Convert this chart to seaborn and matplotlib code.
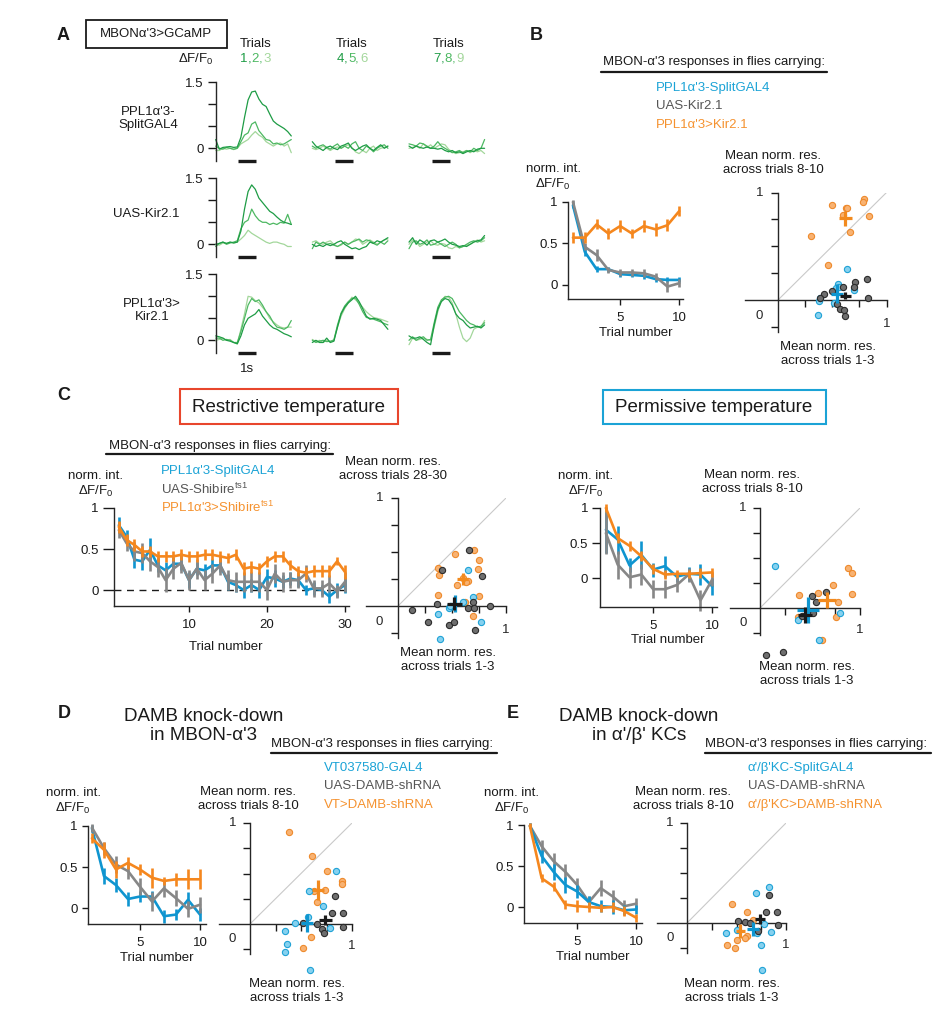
import numpy as np
import pandas as pd
import matplotlib
matplotlib.use("Agg")
import matplotlib.pyplot as plt
import seaborn as sns
from matplotlib.patches import Rectangle
from matplotlib.lines import Line2D

sns.set_theme(style="ticks")
plt.rcParams['font.family'] = ['Liberation Sans', 'DejaVu Sans']
plt.rcParams['mathtext.fontset'] = 'custom'
plt.rcParams['mathtext.rm'] = 'Liberation Sans'
plt.rcParams['mathtext.it'] = 'Liberation Sans:italic'
plt.rcParams['axes.linewidth'] = 1.0
plt.rcParams['xtick.color'] = 'k'
plt.rcParams['ytick.color'] = 'k'

# ---------------------------------------------------------------- data
time_s = [0.0, 0.2, 0.4, 0.6, 0.8, 1.0, 1.2, 1.4, 1.6, 1.8, 2.0,
          2.2, 2.4, 2.6, 2.8, 3.0, 3.2, 3.4, 3.6, 3.8, 4.0, 4.2]
row_labels = ["PPL1α'3-\nSplitGAL4", "UAS-Kir2.1", "PPL1α'3>\nKir2.1"]
trial_groups = [["1", "2", "3"], ["4", "5", "6"], ["7", "8", "9"]]

# panel A traces (first, second, third trial of each block)
split_t123 = [
    [0.20, -0.02, 0.02, 0.03, 0.04, 0.02, 0.03, 0.25, 0.70, 1.10, 1.28, 1.30, 1.12, 1.00, 0.95, 0.78, 0.62, 0.55, 0.50, 0.45, 0.38, 0.28],
    [0.05, 0.00, -0.02, 0.02, 0.00, -0.02, 0.00, 0.15, 0.30, 0.35, 0.55, 0.60, 0.40, 0.30, 0.20, 0.18, 0.10, 0.12, 0.08, 0.10, 0.15, 0.20],
    [-0.05, -0.05, 0.00, -0.02, 0.00, -0.03, 0.00, 0.10, 0.15, 0.20, 0.30, 0.38, 0.30, 0.25, 0.15, 0.10, 0.05, 0.10, 0.12, 0.05, 0.10, -0.10]]
split_t456 = [
    [0.15, 0.05, 0.00, -0.05, 0.02, 0.05, 0.00, -0.03, 0.05, 0.08, 0.12, 0.00, -0.05, 0.00, 0.05, 0.08, 0.00, -0.05, 0.02, 0.08, 0.00, 0.05],
    [0.05, 0.00, 0.05, 0.08, 0.02, -0.02, 0.05, 0.10, 0.00, 0.05, 0.00, 0.10, 0.15, 0.00, -0.05, 0.05, 0.00, -0.08, 0.00, 0.05, 0.08, 0.00],
    [0.00, -0.03, 0.00, 0.05, 0.00, -0.05, 0.00, 0.03, 0.00, 0.05, 0.08, 0.02, -0.08, -0.12, -0.05, -0.10, 0.00, 0.05, -0.05, 0.00, 0.02, 0.05]]
split_t789 = [
    [0.05, 0.00, 0.05, 0.02, 0.00, 0.03, 0.00, 0.00, -0.02, 0.00, -0.05, -0.08, -0.05, -0.10, -0.08, -0.12, -0.08, -0.05, -0.08, -0.02, 0.00, 0.00],
    [0.10, 0.08, 0.05, 0.12, 0.10, 0.05, 0.00, 0.05, 0.15, 0.05, 0.00, -0.05, -0.10, -0.08, -0.05, -0.10, -0.05, -0.08, 0.00, -0.05, 0.00, 0.20],
    [0.00, 0.02, 0.05, 0.00, 0.10, 0.02, 0.08, 0.00, 0.05, 0.10, 0.08, -0.02, -0.08, -0.12, -0.10, -0.08, -0.05, -0.10, -0.05, -0.08, -0.05, -0.12]]
kir_t123 = [
    [0.00, 0.02, 0.05, 0.02, 0.05, 0.03, 0.05, 0.30, 0.80, 1.20, 1.35, 1.25, 1.05, 0.95, 0.85, 0.75, 0.70, 0.62, 0.55, 0.50, 0.48, 0.45],
    [-0.05, 0.02, 0.05, 0.00, 0.03, 0.05, 0.08, 0.35, 0.50, 0.55, 0.80, 0.65, 0.55, 0.50, 0.50, 0.45, 0.48, 0.45, 0.50, 0.48, 0.68, 0.45],
    [0.00, -0.02, 0.03, 0.02, 0.05, 0.03, 0.05, 0.12, 0.20, 0.32, 0.25, 0.20, 0.15, 0.10, 0.05, 0.02, 0.05, 0.05, 0.02, 0.00, -0.05, -0.05]]
kir_t456 = [
    [0.00, -0.05, -0.02, -0.05, 0.00, -0.03, 0.00, 0.05, 0.08, 0.00, -0.05, -0.10, -0.08, -0.12, -0.08, -0.05, 0.05, 0.02, 0.08, 0.05, 0.10, 0.15],
    [-0.10, 0.05, 0.00, 0.05, 0.00, 0.02, -0.02, -0.05, 0.00, 0.05, 0.00, 0.05, 0.08, 0.12, 0.05, 0.10, 0.08, 0.02, -0.02, 0.05, 0.00, 0.08],
    [0.05, 0.08, 0.02, 0.00, 0.05, 0.08, 0.00, -0.05, -0.02, 0.05, 0.00, 0.05, 0.12, 0.10, 0.00, 0.05, 0.10, 0.05, 0.00, 0.05, 0.10, 0.12]]
kir_t789 = [
    [0.05, 0.15, 0.00, 0.10, 0.05, -0.02, 0.08, 0.10, 0.05, 0.08, 0.12, 0.05, 0.00, -0.02, -0.05, -0.03, -0.05, 0.00, 0.05, 0.08, 0.10, 0.20],
    [-0.10, 0.05, 0.08, 0.00, 0.03, 0.10, -0.02, 0.00, 0.05, 0.00, -0.05, 0.00, 0.05, 0.00, -0.08, -0.05, 0.00, 0.05, 0.08, 0.05, 0.08, 0.15],
    [0.00, 0.10, 0.05, -0.05, 0.00, 0.05, 0.08, 0.00, -0.02, 0.02, 0.00, -0.08, -0.10, -0.05, -0.08, -0.05, -0.02, 0.00, 0.05, 0.10, 0.05, 0.08]]
ppkir_t123 = [
    [0.10, 0.08, 0.05, 0.00, -0.02, -0.05, -0.08, 0.10, 0.35, 0.50, 0.55, 0.60, 0.70, 0.55, 0.45, 0.35, 0.28, 0.25, 0.20, 0.15, 0.12, 0.08],
    [0.05, 0.05, 0.00, 0.02, 0.00, -0.05, -0.05, 0.20, 0.50, 0.80, 0.95, 0.88, 0.92, 0.80, 0.65, 0.55, 0.40, 0.30, 0.28, 0.25, 0.30, 0.45],
    [0.00, 0.02, 0.05, 0.00, 0.02, -0.05, -0.08, 0.25, 0.60, 1.00, 0.98, 0.90, 0.85, 0.75, 0.65, 0.50, 0.42, 0.35, 0.30, 0.28, 0.30, 0.30]]
ppkir_t456 = [
    [-0.05, 0.00, -0.05, -0.05, 0.05, -0.05, -0.02, 0.30, 0.60, 0.75, 0.85, 0.92, 1.00, 0.88, 0.72, 0.55, 0.48, 0.50, 0.48, 0.45, 0.35, 0.25],
    [0.00, -0.05, -0.02, 0.00, -0.03, -0.02, 0.00, 0.35, 0.62, 0.78, 0.88, 0.95, 0.96, 0.82, 0.65, 0.52, 0.50, 0.48, 0.45, 0.42, 0.38, 0.35],
    [0.02, -0.03, 0.00, -0.05, 0.00, -0.04, 0.02, 0.30, 0.55, 0.72, 0.85, 0.98, 0.92, 0.85, 0.75, 0.65, 0.58, 0.52, 0.50, 0.48, 0.45, 0.42]]
ppkir_t789 = [
    [0.10, 0.05, 0.05, 0.08, 0.02, -0.05, -0.10, 0.35, 0.70, 0.88, 0.95, 0.92, 0.80, 0.60, 0.50, 0.45, 0.35, 0.28, 0.30, 0.32, 0.28, 0.35],
    [0.00, 0.08, 0.00, 0.05, 0.08, 0.00, 0.02, 0.40, 0.75, 0.92, 0.98, 1.00, 0.95, 0.80, 0.65, 0.55, 0.45, 0.38, 0.35, 0.30, 0.32, 0.40],
    [-0.10, 0.05, 0.00, 0.02, 0.05, 0.02, 0.00, 0.30, 0.65, 0.90, 1.00, 0.98, 0.85, 0.60, 0.30, 0.05, -0.03, 0.05, 0.25, 0.30, 0.30, 0.45]]

trials10 = [1, 2, 3, 4, 5, 6, 7, 8, 9, 10]
trials30 = list(range(1, 31))

# panel B
B_labels = ["PPL1α'3-SplitGAL4", "UAS-Kir2.1", "PPL1α'3>Kir2.1"]
B_blue = [0.96, 0.40, 0.19, 0.19, 0.13, 0.12, 0.11, 0.07, 0.06, 0.06]
B_blue_err = [0.03, 0.05, 0.04, 0.03, 0.03, 0.03, 0.04, 0.03, 0.03, 0.03]
B_gray = [1.00, 0.46, 0.36, 0.18, 0.15, 0.15, 0.14, 0.10, -0.02, 0.02]
B_gray_err = [0.03, 0.04, 0.07, 0.04, 0.04, 0.04, 0.05, 0.04, 0.07, 0.05]
B_orange = [0.57, 0.57, 0.73, 0.62, 0.71, 0.62, 0.71, 0.67, 0.72, 0.89]
B_orange_err = [0.07, 0.07, 0.06, 0.07, 0.07, 0.06, 0.07, 0.08, 0.07, 0.06]
Bs_orange_x = [0.50, 0.63, 0.60, 0.79, 0.78, 0.84, 0.30, 0.66, 0.46, 0.64]
Bs_orange_y = [0.88, 0.86, 0.79, 0.94, 0.91, 0.78, 0.60, 0.63, 0.33, 0.86]
Bs_blue_x = [0.64, 0.55, 0.53, 0.38, 0.39, 0.37, 0.70, 0.52, 0.56]
Bs_blue_y = [0.29, 0.15, 0.11, -0.01, 0.02, -0.14, 0.09, -0.03, 0.12]
Bs_gray_x = [0.60, 0.71, 0.70, 0.82, 0.42, 0.39, 0.50, 0.54, 0.57, 0.61, 0.62, 0.83]
Bs_gray_y = [0.12, 0.17, 0.12, 0.20, 0.06, 0.02, 0.08, -0.04, -0.08, -0.09, -0.15, 0.02]
Bs_means = [(0.54, 0.06, 0.055, 0.085, 'blue'), (0.62, 0.04, 0.05, 0.03, 'black'),
            (0.62, 0.76, 0.06, 0.07, 'orange')]

# panel C restrictive
C_labels = ["PPL1α'3-SplitGAL4", "UAS-Shibire$^{\\mathrm{ts1}}$", "PPL1α'3>Shibire$^{\\mathrm{ts1}}$"]
Cr_blue = [0.79, 0.65, 0.37, 0.35, 0.49, 0.30, 0.24, 0.32, 0.32, 0.12, 0.26, 0.24, 0.30, 0.30, 0.10,
           0.06, 0.00, 0.06, 0.00, 0.16, 0.14, 0.10, 0.14, 0.12, 0.00, 0.02, 0.00, -0.08, 0.00, 0.06]
Cr_blue_err = [0.10, 0.08, 0.10, 0.10, 0.15, 0.08, 0.10, 0.08, 0.08, 0.10, 0.08, 0.08, 0.08, 0.08, 0.10,
               0.08, 0.10, 0.08, 0.10, 0.10, 0.10, 0.08, 0.08, 0.08, 0.06, 0.08, 0.06, 0.08, 0.08, 0.10]
Cr_gray = [0.73, 0.57, 0.47, 0.45, 0.35, 0.28, 0.12, 0.26, 0.33, 0.12, 0.26, 0.12, 0.20, 0.30, 0.12,
           0.10, 0.10, 0.10, 0.10, 0.00, 0.20, 0.10, 0.12, 0.12, 0.20, 0.02, 0.02, 0.08, -0.02, 0.10]
Cr_gray_err = [0.10, 0.10, 0.12, 0.12, 0.12, 0.12, 0.15, 0.12, 0.12, 0.12, 0.12, 0.12, 0.12, 0.12, 0.12,
               0.12, 0.12, 0.12, 0.12, 0.12, 0.12, 0.12, 0.10, 0.10, 0.10, 0.10, 0.10, 0.10, 0.08, 0.12]
Cr_orange = [0.77, 0.61, 0.55, 0.47, 0.47, 0.41, 0.41, 0.41, 0.43, 0.41, 0.41, 0.43, 0.43, 0.41, 0.39,
             0.43, 0.26, 0.28, 0.26, 0.35, 0.41, 0.41, 0.30, 0.23, 0.21, 0.23, 0.23, 0.23, 0.35, 0.22]
Cr_orange_err = [0.07, 0.07, 0.07, 0.07, 0.07, 0.07, 0.07, 0.06, 0.07, 0.07, 0.07, 0.07, 0.07, 0.07, 0.06,
                 0.07, 0.08, 0.07, 0.07, 0.07, 0.07, 0.07, 0.06, 0.06, 0.07, 0.07, 0.07, 0.07, 0.05, 0.08]
Crs_orange_x = [0.53, 0.70, 0.75, 0.74, 0.37, 0.38, 0.55, 0.65, 0.63, 0.37, 0.75, 0.62, 0.69, 0.60]
Crs_orange_y = [0.48, 0.52, 0.43, 0.34, 0.35, 0.29, 0.19, 0.23, 0.22, 0.10, 0.09, 0.04, -0.09, 0.26]
Crs_blue_x = [0.65, 0.69, 0.60, 0.47, 0.37, 0.77, 0.39, 0.48]
Crs_blue_y = [0.33, 0.08, 0.04, -0.02, -0.07, -0.15, -0.31, 0.00]
Crs_gray_x = [0.66, 0.41, 0.78, 0.36, 0.69, 0.65, 0.70, 0.85, 0.13, 0.28, 0.47, 0.52, 0.71]
Crs_gray_y = [0.52, 0.33, 0.28, 0.02, 0.04, -0.02, -0.02, 0.00, -0.04, -0.15, -0.18, -0.15, -0.22]
Crs_means = [(0.53, 0.02, 0.05, 0.08, 'blue'), (0.52, 0.02, 0.07, 0.06, 'black'),
             (0.60, 0.25, 0.05, 0.06, 'orange')]

# panel C permissive
Cp_blue = [0.69, 0.55, 0.18, 0.33, 0.12, 0.17, 0.02, 0.06, 0.05, -0.12]
Cp_blue_err = [0.33, 0.20, 0.10, 0.20, 0.10, 0.15, 0.07, 0.10, 0.15, 0.12]
Cp_gray = [0.64, 0.19, 0.01, 0.05, -0.16, -0.16, -0.10, 0.05, -0.32, -0.02]
Cp_gray_err = [0.30, 0.20, 0.15, 0.15, 0.13, 0.13, 0.10, 0.10, 0.15, 0.10]
Cp_orange = [1.00, 0.57, 0.46, 0.31, 0.13, 0.05, 0.06, 0.06, 0.07, 0.08]
Cp_orange_err = [0.06, 0.07, 0.07, 0.07, 0.07, 0.06, 0.06, 0.06, 0.07, 0.06]
Cps_blue_x = [0.15, 0.80, 0.38, 0.59]
Cps_blue_y = [0.42, -0.05, -0.12, -0.32]
Cps_orange_x = [0.39, 0.58, 0.73, 0.88, 0.92, 0.92, 0.78, 0.76, 0.62, 0.38]
Cps_orange_y = [0.13, 0.15, 0.23, 0.40, 0.35, 0.14, 0.06, -0.09, -0.32, -0.09]
Cps_gray_x = [0.52, 0.56, 0.66, 0.53, 0.06, 0.23, 0.42]
Cps_gray_y = [0.12, 0.06, 0.16, -0.05, -0.47, -0.44, -0.08]
Cps_means = [(0.48, -0.02, 0.11, 0.13, 'blue'), (0.45, -0.07, 0.07, 0.08, 'black'),
             (0.67, 0.08, 0.09, 0.08, 'orange')]

# panel D
D_labels = ["VT037580-GAL4", "UAS-DAMB-shRNA", "VT>DAMB-shRNA"]
D_blue = [0.97, 0.39, 0.28, 0.11, 0.14, 0.14, -0.10, -0.08, 0.10, -0.08]
D_blue_err = [0.04, 0.10, 0.08, 0.08, 0.07, 0.07, 0.08, 0.07, 0.10, 0.08]
D_gray = [0.98, 0.73, 0.53, 0.45, 0.26, 0.08, 0.24, 0.12, -0.01, 0.04]
D_gray_err = [0.05, 0.08, 0.10, 0.10, 0.10, 0.12, 0.10, 0.10, 0.10, 0.10]
D_orange = [0.85, 0.71, 0.47, 0.55, 0.47, 0.37, 0.33, 0.35, 0.35, 0.35]
D_orange_err = [0.06, 0.10, 0.10, 0.07, 0.07, 0.12, 0.05, 0.08, 0.12, 0.12]
Ds_orange_x = [0.38, 0.61, 0.75, 0.90, 0.90, 0.74, 0.63, 0.66, 0.60, 0.52]
Ds_orange_y = [0.91, 0.67, 0.52, 0.43, 0.40, 0.34, 0.33, 0.22, -0.13, -0.24]
Ds_blue_x = [0.84, 0.58, 0.72, 0.44, 0.57, 0.78, 0.34, 0.36, 0.34, 0.59]
Ds_blue_y = [0.52, 0.33, 0.18, 0.01, 0.07, -0.04, -0.07, -0.20, -0.28, -0.46]
Ds_gray_x = [0.83, 0.80, 0.91, 0.66, 0.71, 0.73, 0.91, 0.52]
Ds_gray_y = [0.28, 0.11, 0.11, 0.00, -0.05, -0.09, -0.03, 0.01]
Ds_means = [(0.56, 0.01, 0.06, 0.09, 'blue'), (0.74, 0.04, 0.06, 0.05, 'black'),
            (0.67, 0.34, 0.06, 0.10, 'orange')]

# panel E
E_labels = ["α'/β'KC-SplitGAL4", "UAS-DAMB-shRNA", "α'/β'KC>DAMB-shRNA"]
E_blue = [0.99, 0.62, 0.43, 0.27, 0.19, 0.06, 0.01, 0.00, -0.04, -0.03]
E_blue_err = [0.03, 0.08, 0.10, 0.10, 0.08, 0.07, 0.07, 0.08, 0.06, 0.05]
E_gray = [0.99, 0.74, 0.56, 0.43, 0.27, 0.06, 0.23, 0.13, 0.01, 0.04]
E_gray_err = [0.03, 0.08, 0.10, 0.10, 0.08, 0.07, 0.10, 0.08, 0.07, 0.07]
E_orange = [0.99, 0.35, 0.25, 0.03, 0.01, 0.00, -0.01, 0.00, -0.05, -0.13]
E_orange_err = [0.03, 0.05, 0.06, 0.06, 0.07, 0.06, 0.05, 0.06, 0.06, 0.05]
Es_blue_x = [0.83, 0.70, 0.85, 0.78, 0.75, 0.76, 0.39, 0.50, 0.71]
Es_blue_y = [0.36, 0.30, -0.09, -0.01, -0.22, -0.47, -0.10, -0.07, -0.10]
Es_gray_x = [0.83, 0.80, 0.91, 0.92, 0.52, 0.59, 0.72, 0.64]
Es_gray_y = [0.28, 0.11, 0.11, -0.02, 0.02, 0.01, -0.08, 0.00]
Es_orange_x = [0.45, 0.61, 0.67, 0.50, 0.40, 0.48, 0.61, 0.59]
Es_orange_y = [0.19, 0.11, 0.03, -0.17, -0.22, -0.25, -0.13, -0.15]
Es_means = [(0.67, -0.06, 0.06, 0.07, 'blue'), (0.54, -0.08, 0.05, 0.07, 'orange'),
            (0.74, 0.04, 0.05, 0.05, 'black')]

# ---------------------------------------------------------------- styling
BLUE, GRAY, ORANGE = '#0f95d0', '#878787', '#f5871e'
TXT_BLUE, TXT_GRAY, TXT_ORANGE = '#1ba3d6', '#555555', '#f5922f'
GREENS = ['#1e9c45', '#4db862', '#a3d79b']
SC = {'orange': ('#f8b272', '#ee8a2c'), 'blue': ('#86d1ef', '#1fa2d6'), 'gray': ('#6e6e6e', '#2b2b2b')}
CROSS = {'orange': '#f28a1e', 'blue': '#0f96d0', 'black': 'k'}
FS = 9.5

W, H = 944, 1017
fig = plt.figure(figsize=(W / 100, H / 100), dpi=100)
fig.patch.set_facecolor('white')


def add_ax(left, right, top, bottom):
    ax = fig.add_axes([left / W, 1 - bottom / H, (right - left) / W, (bottom - top) / H])
    ax.set_facecolor('none')
    return ax


def ftext(x, y, s, size=FS, ha='center', va='center', color='k', weight='normal', **kw):
    fig.text(x / W, 1 - y / H, s, fontsize=size, ha=ha, va=va, color=color,
             fontweight=weight, **kw)


def hline(x0, x1, y, lw=1.6, color='k'):
    fig.add_artist(Line2D([x0 / W, x1 / W], [1 - y / H, 1 - y / H], color=color, lw=lw,
                          transform=fig.transFigure))


def box(x0, x1, y0, y1, color, lw=1.4):
    fig.add_artist(Rectangle((x0 / W, 1 - y1 / H), (x1 - x0) / W, (y1 - y0) / H, fill=False,
                             edgecolor=color, lw=lw, transform=fig.transFigure))


# ---------------------------------------------------------------- panel A
ftext(63, 35, 'A', size=13, weight='bold')
box(86, 227, 20, 48, 'k', lw=1.3)
ftext(156, 34, "MBONα'3>GCaMP")
ftext(196, 59, 'ΔF/F$_0$')
col_left = [215.7, 312.3, 409.0]
row_zero = [148.3, 244.3, 340.3]
unit_y = 44.0
px_per_s = 18.0
digit_dx = [-11, -6, 0, 5, 12]
for c in range(3):
    cx = col_left[c] + 39.5
    ftext(cx, 44, 'Trials')
    g = trial_groups[c]
    pieces = [(g[0], GREENS[0]), (',', GREENS[0]), (g[1], GREENS[1]), (',', GREENS[1]), (g[2], GREENS[2])]
    for (s, colr), dx in zip(pieces, digit_dx):
        ftext(cx + dx, 59, s, color=colr)

A_data = [[split_t123, split_t456, split_t789],
          [kir_t123, kir_t456, kir_t789],
          [ppkir_t123, ppkir_t456, ppkir_t789]]
label_x = [148.5, 146, 152]
for r in range(3):
    ftext(label_x[r], row_zero[r] - 30, row_labels[r], linespacing=1.15)
    for c in range(3):
        left = col_left[c]
        ax = add_ax(left, left + 4.2 * px_per_s, row_zero[r] - 1.5 * unit_y, row_zero[r] + 0.3 * unit_y)
        traces = A_data[r][c]
        for k in [2, 1, 0]:
            df = pd.DataFrame({'t': time_s, 'dff': traces[k]})
            sns.lineplot(data=df, x='t', y='dff', ax=ax, color=GREENS[k], lw=0.9, clip_on=False)
        ax.plot([1.25, 2.25], [-0.3, -0.3], color='k', lw=2.4, solid_capstyle='butt', clip_on=False)
        ax.set_xlim(0, 4.2)
        ax.set_ylim(-0.3, 1.5)
        ax.set_xlabel('')
        ax.set_ylabel('')
        for sp in ['top', 'right', 'bottom']:
            ax.spines[sp].set_visible(False)
        ax.set_xticks([])
        if c == 0:
            ax.set_yticks([0, 0.5, 1.0, 1.5])
            ax.set_yticklabels(['0', '', '', '1.5'])
            ax.tick_params(axis='y', length=5.5, width=1, labelsize=FS, pad=3)
        else:
            ax.spines['left'].set_visible(False)
            ax.set_yticks([])
ftext(247, 369, '1s')


# ---------------------------------------------------------------- helpers for B-E
def trial_panel(left, right, top, bottom, xlim, ylim, xticks, series, ticklen=4.5, zero_dash=False):
    ax = add_ax(left, right, top, bottom)
    x_all = None
    for vals, errs, col in series:
        x = trials10 if len(vals) == 10 else trials30
        df = pd.DataFrame({'trial': x, 'resp': vals})
        sns.lineplot(data=df, x='trial', y='resp', ax=ax, color=col, lw=1.9, clip_on=False)
        ax.errorbar(x, vals, yerr=errs, fmt='none', ecolor=col, elinewidth=1.9, capsize=0, clip_on=False)
    if zero_dash:
        ax.plot([xlim[0], xlim[1]], [0, 0], color='k', lw=1.0, ls=(0, (5, 4)), zorder=0, clip_on=False)
    ax.set_xlim(*xlim)
    ax.set_ylim(*ylim)
    ax.set_xlabel('')
    ax.set_ylabel('')
    sns.despine(ax=ax)
    ax.set_xticks(xticks)
    ax.set_xticklabels([str(v) for v in xticks])
    ax.set_yticks([0, 0.5, 1])
    ax.set_yticklabels(['0', '0.5', '1'])
    ax.tick_params(axis='y', length=ticklen, width=1, labelsize=FS, pad=3)
    ax.tick_params(axis='x', length=4.5, width=1, labelsize=FS, pad=5)
    return ax


def scatter_panel(x0, ux, y0, uy, groups, means, ymin=-0.3):
    ax = add_ax(x0 - 0.3 * ux, x0 + ux, y0 - uy, y0 - ymin * uy)
    ax.plot([0, 1], [0, 1], color='#c9c9c9', lw=0.8, zorder=1)
    for xs, ys, key in groups:
        fc, ec = SC[key]
        sns.scatterplot(x=xs, y=ys, ax=ax, s=20, color=fc, edgecolor=ec, linewidth=0.8,
                        clip_on=False, zorder=3)
    for mx, my, ex, ey, key in means:
        ax.errorbar([mx], [my], xerr=[ex], yerr=[ey], fmt='none', ecolor=CROSS[key],
                    elinewidth=2.3, capsize=0, zorder=5, clip_on=False)
    ax.set_xlim(-0.3, 1.0)
    ax.set_ylim(ymin, 1.0)
    ax.spines['left'].set_position(('data', 0))
    ax.spines['bottom'].set_position(('data', 0))
    ax.spines['top'].set_visible(False)
    ax.spines['right'].set_visible(False)
    ax.set_xticks([0.25, 0.5, 0.75, 1.0])
    ax.set_xticklabels([])
    ax.set_yticks([-0.25, 0.25, 0.5, 0.75, 1.0])
    ax.set_yticklabels([])
    ax.tick_params(length=5, width=1)
    ax.text(-0.17, 1.0, '1', ha='center', va='center', fontsize=FS, clip_on=False)
    ax.text(-0.17, -0.15, '0', ha='center', va='center', fontsize=FS, clip_on=False)
    ax.text(1.0, -0.22, '1', ha='center', va='center', fontsize=FS, clip_on=False)
    return ax


def norm_label(x, y):
    ftext(x, y, 'norm. int.')
    ftext(x, y + 15, 'ΔF/F$_0$')


def legend_block(x, y, labels, title=None, title_x=None, line=None):
    cols = [TXT_BLUE, TXT_GRAY, TXT_ORANGE]
    for i, (lab, colr) in enumerate(zip(labels, cols)):
        ftext(x, y + i * 18.3, lab, ha='left', color=colr)


MEAN_TOP = "Mean norm. res.\nacross trials "
MEAN_BOT = "Mean norm. res.\nacross trials 1-3"

# ---------------------------------------------------------------- panel B
ftext(536, 35, 'B', size=13, weight='bold')
ftext(714, 62, "MBON-α'3 responses in flies carrying:")
hline(601, 827, 72)
legend_block(656, 88, B_labels)
norm_label(553, 169)
trial_panel(568, 683, 202, 299, (0.58, 10.32), (-0.17, 1.0), [5, 10],
            [(B_blue, B_blue_err, BLUE), (B_gray, B_gray_err, GRAY), (B_orange, B_orange_err, ORANGE)])
ftext(636, 333, 'Trial number')
scatter_panel(778, 108.5, 300, 107.5,
              [(Bs_orange_x, Bs_orange_y, 'orange'), (Bs_blue_x, Bs_blue_y, 'blue'),
               (Bs_gray_x, Bs_gray_y, 'gray')], Bs_means)
ftext(773, 163, MEAN_TOP + "8-10", linespacing=1.15)
ftext(828, 354, MEAN_BOT, linespacing=1.15)

# ---------------------------------------------------------------- panel C
ftext(64, 396, 'C', size=13, weight='bold')
box(180, 398, 389, 424, '#e8462c', lw=1.5)
ftext(289, 407, 'Restrictive temperature', size=13.5)
box(603, 826, 390, 424, '#1ba3d6', lw=1.5)
ftext(714, 407, 'Permissive temperature', size=13.5)

ftext(220, 446, "MBON-α'3 responses in flies carrying:")
hline(106, 333, 454)
legend_block(161, 471, C_labels)
norm_label(96, 476)
trial_panel(114, 348.9, 508, 606, (0.38, 30.5), (-0.195, 1.0), [10, 20, 30],
            [(Cr_blue, Cr_blue_err, BLUE), (Cr_gray, Cr_gray_err, GRAY), (Cr_orange, Cr_orange_err, ORANGE)],
            ticklen=8, zero_dash=True)
ftext(226, 647, 'Trial number')
scatter_panel(398, 108, 606, 108,
              [(Crs_orange_x, Crs_orange_y, 'orange'), (Crs_blue_x, Crs_blue_y, 'blue'),
               (Crs_gray_x, Crs_gray_y, 'gray')], Crs_means)
ftext(393, 469, MEAN_TOP + "28-30", linespacing=1.15)
ftext(448, 660, MEAN_BOT, linespacing=1.15)

norm_label(586, 476)
trial_panel(600, 717, 508, 607, (0.5, 10.4), (-0.414, 1.0), [5, 10],
            [(Cp_blue, Cp_blue_err, BLUE), (Cp_gray, Cp_gray_err, GRAY), (Cp_orange, Cp_orange_err, ORANGE)],
            ticklen=5.5)
ftext(668, 640, 'Trial number')
scatter_panel(760, 100, 608, 100,
              [(Cps_orange_x, Cps_orange_y, 'orange'), (Cps_blue_x, Cps_blue_y, 'blue'),
               (Cps_gray_x, Cps_gray_y, 'gray')], Cps_means, ymin=-0.27)
ftext(752, 482, MEAN_TOP + "8-10", linespacing=1.15)
ftext(807, 674, MEAN_BOT, linespacing=1.15)

# ---------------------------------------------------------------- panel D
ftext(64, 714, 'D', size=13, weight='bold')
ftext(204, 726, "DAMB knock-down\nin MBON-α'3", size=13.5, linespacing=1.1)
ftext(271, 744, "MBON-α'3 responses in flies carrying:", ha='left')
hline(271, 497, 753)
legend_block(324, 768, D_labels)
norm_label(73, 793)
trial_panel(88, 206, 826, 924, (0.67, 10.5), (-0.195, 1.0), [5, 10],
            [(D_blue, D_blue_err, BLUE), (D_gray, D_gray_err, GRAY), (D_orange, D_orange_err, ORANGE)])
ftext(157, 958, 'Trial number')
scatter_panel(250, 102, 924, 101,
              [(Ds_orange_x, Ds_orange_y, 'orange'), (Ds_blue_x, Ds_blue_y, 'blue'),
               (Ds_gray_x, Ds_gray_y, 'gray')], Ds_means)
ftext(248, 799, MEAN_TOP + "8-10", linespacing=1.15)
ftext(297, 991, MEAN_BOT, linespacing=1.15)

# ---------------------------------------------------------------- panel E
ftext(513, 714, 'E', size=13, weight='bold')
ftext(639, 726, "DAMB knock-down\nin α'/β' KCs", size=13.5, linespacing=1.1)
ftext(705, 744, "MBON-α'3 responses in flies carrying:", ha='left')
hline(705, 931, 753)
legend_block(748, 768, E_labels)
norm_label(512, 793)
trial_panel(524, 642, 825, 923, (0.5, 10.5), (-0.195, 1.0), [5, 10],
            [(E_gray, E_gray_err, GRAY), (E_blue, E_blue_err, BLUE), (E_orange, E_orange_err, ORANGE)])
ftext(593, 957, 'Trial number')
scatter_panel(687, 99, 923, 100,
              [(Es_orange_x, Es_orange_y, 'orange'), (Es_blue_x, Es_blue_y, 'blue'),
               (Es_gray_x, Es_gray_y, 'gray')], Es_means)
ftext(683, 799, MEAN_TOP + "8-10", linespacing=1.15)
ftext(732, 991, MEAN_BOT, linespacing=1.15)

fig.savefig('out.png', dpi=100, facecolor='white')
